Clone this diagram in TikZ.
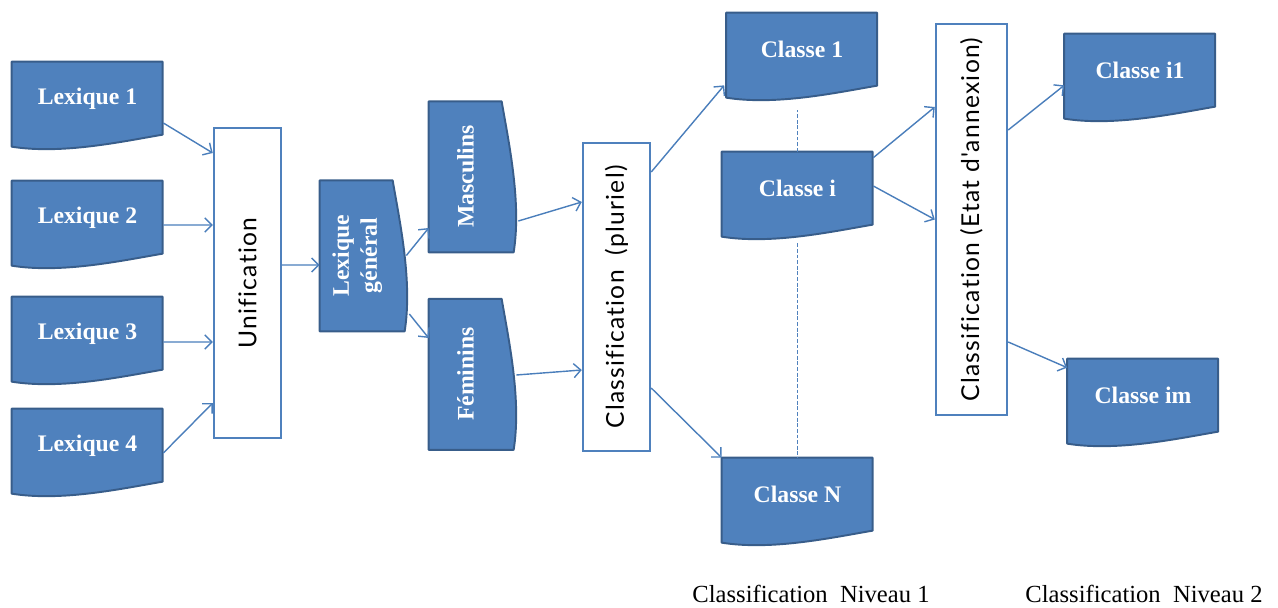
\documentclass[tikz,border=0pt]{standalone}
\usepackage{fontspec}
\setmainfont{Liberation Serif}
\newfontfamily\boxsans[Ligatures=NoCommon,LetterSpace=5]{Lato}
\usepackage{graphicx}
\usetikzlibrary{arrows.meta,backgrounds}
\definecolor{docblue}{HTML}{4F81BD}
\definecolor{docedge}{HTML}{385D8A}
\definecolor{arrowblue}{HTML}{4A7EBB}

\tikzset{
  docpic/.pic={\path[fill=docblue,draw=docedge,line width=1.1pt,line join=round]
      (0,0) -- (151,0) -- (151,73) .. controls (110,80) and (50,93) .. (0,85) -- cycle;},
  docnode/.style={inner sep=0pt, minimum width=3.02cm, minimum height=1.46cm,
      text=white, font=\fontsize{13.5}{18}\selectfont\bfseries},
  vdocnode/.style={docnode, minimum width=1.46cm, minimum height=3.02cm},
  procbox/.style={draw=docblue, line width=1.4pt, fill=white, inner sep=0pt,
      font=\boxsans\fontsize{14}{16}\selectfont},
  arr/.style={draw=arrowblue, line width=0.8pt, -{Straight Barb[length=4pt,width=8pt]}},
  dashline/.style={draw=docblue, line width=1.1pt, dash pattern=on 2.2pt off 1pt},
  levellabel/.style={font=\fontsize{14}{16}\selectfont, inner sep=0pt},
}

\begin{document}
\begin{tikzpicture}[x=0.02cm,y=-0.02cm]
\useasboundingbox (0,0) rectangle (1278,608);

% input lexicons
\node[docnode] (lex1) at (87.5,98.5)  {Lexique 1};
\node[docnode] (lex2) at (87.5,217.5) {Lexique 2};
\node[docnode] (lex3) at (87.5,333.5) {Lexique 3};
\node[docnode] (lex4) at (87.5,445.5) {Lexique 4};

% processing boxes
\node[procbox, minimum width=1.34cm, minimum height=6.2cm] (unif) at (247.5,283)
  {\rotatebox{90}{Unification}};
\node[procbox, minimum width=1.34cm, minimum height=6.16cm] (plur) at (616.5,297)
  {\rotatebox{90}{Classification\ \ (pluriel)}};
\node[procbox, minimum width=1.42cm, minimum height=7.82cm] (etat) at (971.5,219.5)
  {\rotatebox{90}{Classification (Etat d'annexion)}};

% general lexicon and gender split
\node[vdocnode] (lexg) at (356.5,255.5)
  {\rotatebox{90}{\begin{tabular}{@{}c@{}}Lexique\\[-2pt]général\end{tabular}}};
\node[vdocnode] (masc) at (465.5,176.5) {\rotatebox{90}{Masculins}};
\node[vdocnode] (fem)  at (465.5,374)   {\rotatebox{90}{Féminins}};

% level 1 classes
\node[docnode] (c1) at (802,49.5)    {Classe 1};
\node[docnode] (ci) at (797.5,188.5) {Classe i};
\node[docnode] (cN) at (797.5,494.5) {Classe N};

% level 2 classes
\node[docnode] (ci1) at (1140,70.5)  {Classe i1};
\node[docnode] (cim) at (1143,395.5) {Classe im};

% document shapes behind the labels
\begin{scope}[on background layer]
  \foreach \n in {lex1,lex2,lex3,lex4,c1,ci,cN,ci1,cim}
    \pic at (\n.north west) {docpic};
  \foreach \n in {lexg,masc,fem}
    \pic[rotate=90] at (\n.south west) {docpic};
\end{scope}

% level captions
\node[levellabel] (niv1) at (811,594)  {Classification\ \ Niveau 1};
\node[levellabel] (niv2) at (1144,594) {Classification\ \ Niveau 2};

% connectors
\draw[arr] ([shift={(0,24.5)}]lex1.east) -- ([shift={(0,-130)}]unif.west);
\draw[arr] ([shift={(0,7.5)}]lex2.east)  -- ([shift={(0,-58)}]unif.west);
\draw[arr] ([shift={(0,8.5)}]lex3.east)  -- ([shift={(0,59)}]unif.west);
\draw[arr] ([shift={(0,7.5)}]lex4.east)  -- ([shift={(0,120)}]unif.west);
\draw[arr] ([shift={(0,-18)}]unif.east)  -- ([shift={(0,9.5)}]lexg.west);
\draw[arr] ([shift={(13,0)}]lexg.east)   -- ([shift={(0,51.5)}]masc.west);
\draw[arr] ([shift={(16,58.5)}]lexg.east) -- ([shift={(0,-36)}]fem.west);
\draw[arr] ([shift={(16,44.5)}]masc.east) -- ([shift={(0,-95)}]plur.west);
\draw[arr] ([shift={(14,1)}]fem.east)    -- ([shift={(0,73)}]plur.west);
\draw[arr] ([shift={(0,-125)}]plur.east) -- ([shift={(-2,-1)}]c1.south west);
\draw[arr] ([shift={(0,91)}]plur.east)   -- (cN.north west);
\draw[arr] ([shift={(0,6)}]ci.north east) -- ([shift={(0,-112.5)}]etat.west);
\draw[arr] ([shift={(0,-2.5)}]ci.east)   -- (etat.west);
\draw[arr] ([shift={(0,-89.5)}]etat.east) -- ([shift={(0,-22)}]ci1.south west);
\draw[arr] ([shift={(0,122.5)}]etat.east) -- ([shift={(0,9)}]cim.north west);

% dotted links between the level 1 classes
\draw[dashline] (ci.north) -- ++(0,-42);
\draw[dashline] ([shift={(0,18)}]ci.south) -- (cN.north);
\end{tikzpicture}
\end{document}
